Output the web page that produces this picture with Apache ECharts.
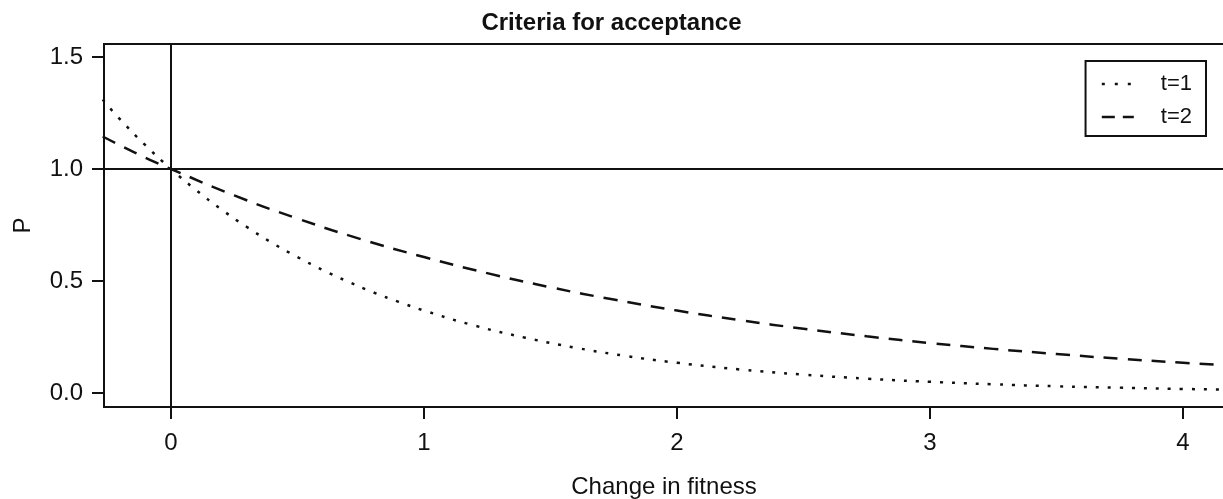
<!DOCTYPE html>
<html>
<head>
<meta charset="utf-8">
<script src="https://cdn.jsdelivr.net/npm/echarts@6/dist/echarts.min.js"></script>
<style>html,body{margin:0;padding:0;background:#fff;}#c{width:1223px;height:499px;}</style>
</head>
<body>
<div id="c"></div>
<script>
// values
const xT1 = [-0.27, -0.2, -0.1, 0, 0.1, 0.2, 0.3, 0.4, 0.5, 0.6, 0.7, 0.8, 0.9, 1.0, 1.2, 1.4, 1.6, 1.8, 2.0, 2.25, 2.5, 2.75, 3.0, 3.25, 3.5, 3.75, 4.0, 4.2];
const yT1 = [1.31, 1.22, 1.105, 1.0, 0.905, 0.819, 0.741, 0.670, 0.607, 0.549, 0.497, 0.449, 0.407, 0.368, 0.301, 0.247, 0.202, 0.165, 0.135, 0.105, 0.082, 0.064, 0.050, 0.039, 0.030, 0.024, 0.018, 0.015];
const xT2 = [-0.27, -0.2, -0.1, 0, 0.25, 0.5, 0.75, 1.0, 1.25, 1.5, 1.75, 2.0, 2.25, 2.5, 2.75, 3.0, 3.25, 3.5, 3.75, 4.0, 4.2];
const yT2 = [1.145, 1.105, 1.05, 1.0, 0.882, 0.779, 0.687, 0.607, 0.535, 0.472, 0.417, 0.368, 0.325, 0.287, 0.253, 0.223, 0.197, 0.174, 0.153, 0.135, 0.122];
const seriesNames = ['t=1', 't=2'];
const xTicks = [0, 1, 2, 3, 4];
const yTicks = [0, 0.5, 1, 1.5];
const refX = 0;
const refY = 1;

const font = '"Liberation Sans", Arial, Helvetica, sans-serif';
const chart = echarts.init(document.getElementById('c'));
const pairs = (xs, ys) => xs.map((x, i) => [x, ys[i]]);

chart.setOption({
  animation: false,
  backgroundColor: '#fff',
  title: {
    text: 'Criteria for acceptance',
    left: 'center',
    top: 6,
    textStyle: { fontFamily: font, fontSize: 24, fontWeight: 'bold', color: '#111' }
  },
  grid: {
    left: 104, top: 44, bottom: 92, right: -1,
    outerBoundsMode: 'none', containLabel: false,
    show: true, borderColor: '#111', borderWidth: 2, backgroundColor: 'transparent'
  },
  legend: {
    right: 17, top: 61,
    orient: 'vertical',
    data: [
      { name: seriesNames[0], lineStyle: { type: [3, 10], width: 2.5 } },
      { name: seriesNames[1], lineStyle: { type: [13, 8], width: 2.5 } }
    ],
    borderColor: '#111', borderWidth: 2, borderRadius: 0,
    padding: [12, 14, 8, 15],
    itemWidth: 32, itemHeight: 14, itemGap: 11,
    itemStyle: { opacity: 0 },
    textStyle: { fontFamily: font, fontSize: 22, color: '#111', padding: [0, 0, 0, 22] }
  },
  xAxis: {
    type: 'value',
    min: -0.2648, max: 4.162,
    name: 'Change in fitness',
    nameLocation: 'middle',
    nameGap: 68,
    nameTextStyle: { fontFamily: font, fontSize: 24, color: '#111' },
    axisLine: { show: false, onZero: false },
    splitLine: { show: false },
    axisTick: { show: true, inside: false, length: 12, lineStyle: { color: '#111', width: 2 }, customValues: xTicks },
    axisLabel: { fontFamily: font, fontSize: 24, color: '#111', margin: 24, customValues: xTicks, formatter: v => String(v) }
  },
  yAxis: {
    type: 'value',
    min: -0.0625, max: 1.558,
    name: 'P',
    nameLocation: 'middle',
    nameGap: 69,
    nameTextStyle: { fontFamily: font, fontSize: 24, color: '#111' },
    axisLine: { show: false, onZero: false },
    splitLine: { show: false },
    axisTick: { show: true, inside: false, length: 12, lineStyle: { color: '#111', width: 2 }, customValues: yTicks },
    axisLabel: { fontFamily: font, fontSize: 24, color: '#111', margin: 21, customValues: yTicks, formatter: v => v.toFixed(1) }
  },
  series: [
    {
      name: seriesNames[0], type: 'line', smooth: true, symbol: 'none',
      data: pairs(xT1, yT1),
      lineStyle: { color: '#111', width: 2.5, type: [3, 9] },
      itemStyle: { color: '#111' },
      markLine: {
        silent: true, symbol: 'none', label: { show: false },
        lineStyle: { color: '#111', width: 2, type: 'solid' },
        data: [{ xAxis: refX }, { yAxis: refY }]
      }
    },
    {
      name: seriesNames[1], type: 'line', smooth: true, symbol: 'none',
      data: pairs(xT2, yT2),
      lineStyle: { color: '#111', width: 2.5, type: [14, 10] },
      itemStyle: { color: '#111' }
    }
  ]
});
</script>
</body>
</html>
